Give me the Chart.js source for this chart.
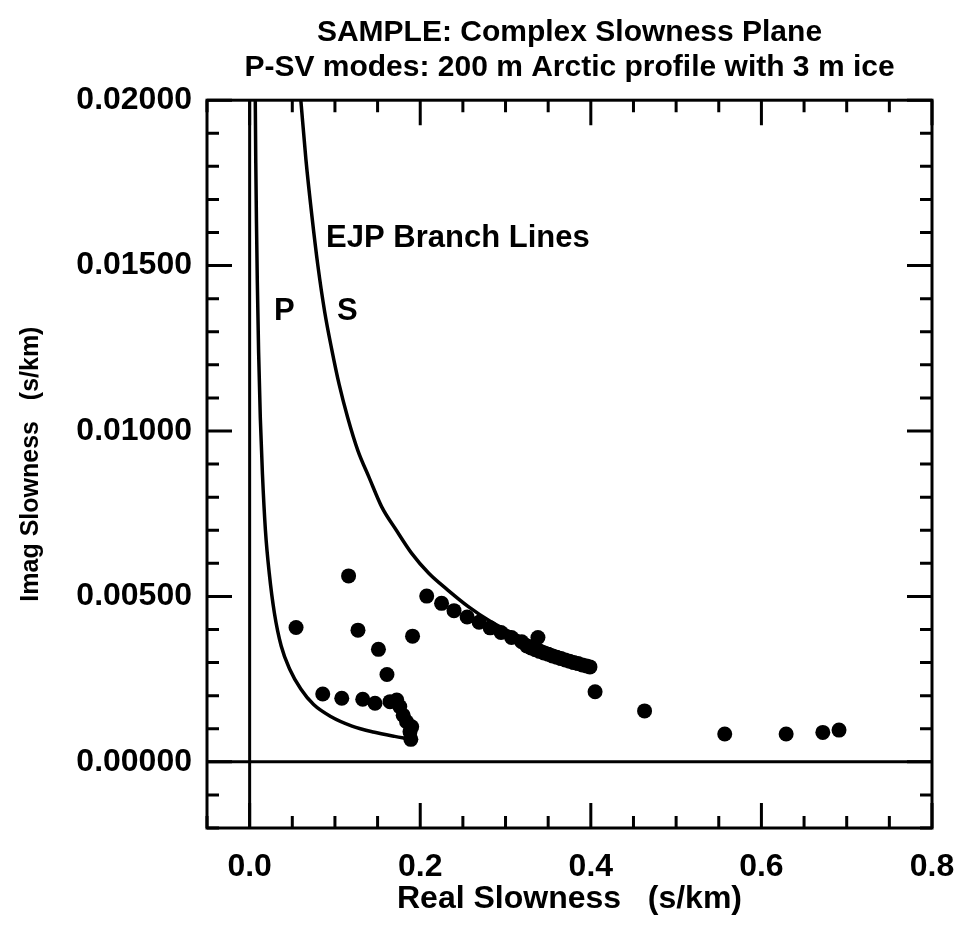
<!DOCTYPE html>
<html>
<head>
<meta charset="utf-8">
<script src="https://cdn.jsdelivr.net/npm/chart.js@4.4.1/dist/chart.umd.min.js"></script>
<style>
  html, body { margin: 0; padding: 0; background: #fff; }
</style>
</head>
<body>
<canvas id="chart" width="958" height="934"></canvas>
<script>
// ─── Data ───────────────────────────────────────────────────────────────────

// EJP branch line for P (real slowness, imag slowness)
const pBranchX = [0.0066, 0.0072, 0.0080, 0.0090, 0.0105, 0.0125, 0.0150, 0.0185, 0.0230, 0.0290,
                  0.0370, 0.0470, 0.0600, 0.0750, 0.0950, 0.1200, 0.1450, 0.1700, 0.1860];
const pBranchY = [0.0200, 0.0181, 0.0163, 0.0145, 0.0124, 0.0104, 0.0087, 0.0070, 0.0057, 0.0045,
                  0.0035, 0.0028, 0.0022, 0.00173, 0.00137, 0.00108, 0.00090, 0.00077, 0.00070];

// EJP branch line for S
const sBranchX = [0.060, 0.066, 0.073, 0.080, 0.088, 0.096, 0.105, 0.115, 0.127, 0.140, 0.155,
                  0.172, 0.190, 0.210, 0.232, 0.256, 0.282, 0.310, 0.340, 0.370, 0.400];
const sBranchY = [0.0200, 0.0182, 0.0165, 0.0150, 0.0136, 0.0125, 0.0114, 0.0104, 0.0094, 0.0086, 0.0077,
                  0.0070, 0.0063, 0.0057, 0.0052, 0.0047, 0.00425, 0.00387, 0.00353, 0.00324, 0.00300];

// P-SV mode poles
const modeX = [0.116, 0.0544, 0.127, 0.191, 0.151, 0.161, 0.0857, 0.108, 0.1326, 0.147,
               0.1646, 0.1725, 0.176, 0.180, 0.184, 0.190, 0.188, 0.189,
               0.2076, 0.225, 0.2396, 0.255, 0.269, 0.282, 0.2947, 0.307, 0.319, 0.338,
               0.325, 0.330, 0.335, 0.340, 0.345, 0.350, 0.355, 0.360, 0.365, 0.370,
               0.375, 0.380, 0.385, 0.390, 0.395, 0.399,
               0.405, 0.463, 0.557, 0.629, 0.672, 0.691];
const modeY = [0.00562, 0.00406, 0.00398, 0.00380, 0.00340, 0.00264, 0.00205, 0.00192, 0.00189, 0.00177,
               0.00182, 0.00187, 0.00167, 0.00141, 0.00121, 0.00106, 0.00091, 0.00068,
               0.00501, 0.00479, 0.00457, 0.00438, 0.00422, 0.00405, 0.00391, 0.00376, 0.00363, 0.00376,
               0.00350, 0.00344, 0.00339, 0.00334, 0.00329, 0.00325, 0.00320, 0.00316, 0.00312, 0.00308,
               0.00304, 0.00300, 0.00297, 0.00293, 0.00290, 0.00287,
               0.00212, 0.00154, 0.00084, 0.00084, 0.00089, 0.00096];

// Axes
const xRange = [-0.05, 0.8];
const yRange = [-0.002, 0.02];
const xTickValues = [0.0, 0.2, 0.4, 0.6, 0.8];
const yTickValues = [0.0, 0.005, 0.01, 0.015, 0.02];
const xMinorStep = 0.05;
const yMinorStep = 0.001;

// Text
const titleLines = ['SAMPLE: Complex Slowness Plane', 'P-SV modes: 200 m Arctic profile with 3 m ice'];
const xAxisTitle = 'Real Slowness   (s/km)';
const yAxisTitle = 'Imag Slowness   (s/km)';
const noteText = ['EJP Branch Lines', 'P', 'S'];
const noteX    = [0.0896, 0.0286, 0.1025];
const noteY    = [0.01556, 0.01335, 0.01335];

// ─── Helpers ────────────────────────────────────────────────────────────────

const FONT = '"Liberation Sans", Arial, Helvetica, sans-serif';
const INK  = '#000';

const toPoints = (xs, ys) => xs.map((x, i) => ({ x, y: ys[i] }));

function stepValues(min, max, step) {
    const out = [];
    const n = Math.round((max - min) / step);
    for (let i = 0; i <= n; i++) out.push(+(min + i * step).toFixed(6));
    return out;
}

// Frame, inward ticks, zero lines and the in-plot notes
const framePlugin = {
    id: 'frame',
    beforeDatasetsDraw(chart) {
        const { ctx, chartArea: a, scales: { x, y } } = chart;
        ctx.save();
        ctx.strokeStyle = INK;
        ctx.lineWidth = 3;
        ctx.beginPath();
        const x0 = x.getPixelForValue(0), y0 = y.getPixelForValue(0);
        ctx.moveTo(x0, a.top);    ctx.lineTo(x0, a.bottom);
        ctx.moveTo(a.left, y0);   ctx.lineTo(a.right, y0);
        ctx.stroke();
        ctx.restore();
    },
    afterDatasetsDraw(chart) {
        const { ctx, chartArea: a, scales: { x, y } } = chart;
        const major = 25, minor = 12;
        ctx.save();
        ctx.strokeStyle = INK;
        ctx.lineWidth = 3;
        ctx.strokeRect(a.left, a.top, a.right - a.left, a.bottom - a.top);

        ctx.beginPath();
        stepValues(xRange[0], xRange[1], xMinorStep).forEach(v => {
            const px = x.getPixelForValue(v);
            const len = xTickValues.some(t => Math.abs(t - v) < 1e-6) ? major : minor;
            ctx.moveTo(px, a.bottom); ctx.lineTo(px, a.bottom - len);
            ctx.moveTo(px, a.top);    ctx.lineTo(px, a.top + len);
        });
        stepValues(yRange[0], yRange[1], yMinorStep).forEach(v => {
            const py = y.getPixelForValue(v);
            const len = yTickValues.some(t => Math.abs(t - v) < 1e-6) ? major : minor;
            ctx.moveTo(a.left, py);  ctx.lineTo(a.left + len, py);
            ctx.moveTo(a.right, py); ctx.lineTo(a.right - len, py);
        });
        ctx.stroke();

        ctx.fillStyle = INK;
        ctx.font = `bold 31px ${FONT}`;
        ctx.textAlign = 'left';
        ctx.textBaseline = 'alphabetic';
        noteText.forEach((t, i) => {
            ctx.fillText(t, x.getPixelForValue(noteX[i]), y.getPixelForValue(noteY[i]));
        });
        ctx.restore();
    },
};

// ─── Chart ──────────────────────────────────────────────────────────────────

Chart.defaults.font.family = FONT;
Chart.defaults.font.weight = 'bold';
Chart.defaults.color = INK;

const branchStyle = {
    showLine: true, pointRadius: 0, borderColor: INK, borderWidth: 3.5, fill: false,
    cubicInterpolationMode: 'monotone',
};

new Chart(document.getElementById('chart'), {
    type: 'scatter',
    data: {
        datasets: [
            { label: 'P branch', data: toPoints(pBranchX, pBranchY), ...branchStyle },
            { label: 'S branch', data: toPoints(sBranchX, sBranchY), ...branchStyle },
            {
                label: 'Modes',
                data: toPoints(modeX, modeY),
                pointRadius: 7.5,
                pointBackgroundColor: INK,
                pointBorderWidth: 0,
                showLine: false,
            },
        ],
    },
    options: {
        responsive: false,
        animation: false,
        layout: { padding: { top: 0, left: 0, right: 26, bottom: 0 } },
        plugins: {
            legend:  { display: false },
            tooltip: { enabled: false },
            title: {
                display: true,
                text: titleLines,
                fullSize: false,
                color: INK,
                font: { size: 30, weight: 'bold', lineHeight: 1.17 },
                padding: { top: 15, bottom: 15 },
            },
        },
        scales: {
            x: {
                type: 'linear',
                min: xRange[0],
                max: xRange[1],
                afterBuildTicks: s => { s.ticks = xTickValues.map(value => ({ value })); },
                // fixed box: the last tick label may overhang into the right margin
                afterFit: s => { s.height = 106; s.paddingLeft = 0; s.paddingRight = 0; },
                grid:   { display: false, drawTicks: false },
                border: { display: false },
                ticks:  { color: INK, font: { size: 32 }, padding: 20, maxRotation: 0, autoSkip: false,
                          callback: v => Number(v).toFixed(1) },
                title:  { display: true, text: xAxisTitle, color: INK, font: { size: 32 },
                          padding: { top: 0, bottom: 16 } },
            },
            y: {
                type: 'linear',
                min: yRange[0],
                max: yRange[1],
                afterBuildTicks: s => { s.ticks = yTickValues.map(value => ({ value })); },
                afterFit: s => { s.width = 207; },
                grid:   { display: false, drawTicks: false },
                border: { display: false },
                ticks:  { color: INK, font: { size: 32 }, padding: 15, autoSkip: false,
                          callback: v => Number(v).toFixed(5) },
                title:  { display: true, text: yAxisTitle, color: INK, font: { size: 25 },
                          padding: { top: 16, bottom: 0 } },
            },
        },
    },
    plugins: [framePlugin],
});
</script>
</body>
</html>
